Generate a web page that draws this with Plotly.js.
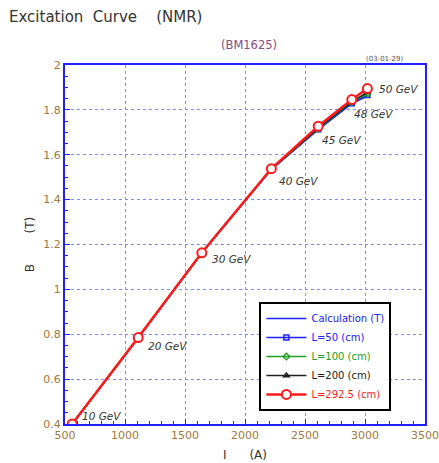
<!DOCTYPE html>
<html><head><meta charset="utf-8">
<script src="https://cdn.plot.ly/plotly-3.0.1.min.js"></script>
<style>body{margin:0;background:#fff}#c{width:439px;height:463px}</style>
</head><body><div id="c"></div>
<script>
const current = [560, 1110, 1640, 2220, 2610, 2890, 3020];
const energyLabels = ["10 GeV","20 GeV","30 GeV","40 GeV","45 GeV","48 GeV","50 GeV"];
const calcB  = [0.40, 0.785, 1.163, 1.535, 1.712, 1.828, 1.862];
const L50B   = [0.40, 0.785, 1.163, 1.535, 1.714, 1.830, 1.866];
const L100B  = [0.40, 0.785, 1.163, 1.536, 1.716, 1.834, 1.872];
const L200B  = [0.40, 0.785, 1.163, 1.537, 1.718, 1.837, 1.878];
const L292B  = [0.40, 0.785, 1.163, 1.538, 1.727, 1.846, 1.895];
const labelShift = [[8,8],[8,-8],[8,-6],[6,-12],[2,-14],[0,-14],[10,0]];

const traces = [
  {x: current, y: calcB, mode:'lines', name:'Calculation (T)', line:{color:'#2020ff', width:1.5}},
  {x: current, y: L50B, mode:'lines+markers', name:'L=50 (cm)', line:{color:'#2020ff', width:1.5},
   marker:{symbol:'square-open', size:5, color:'#2020ff', line:{width:1.5}}},
  {x: current, y: L100B, mode:'lines+markers', name:'L=100 (cm)', line:{color:'#20a020', width:1.5},
   marker:{symbol:'diamond-open', size:5, color:'#20a020', line:{width:1.5}}},
  {x: current, y: L200B, mode:'lines+markers', name:'L=200 (cm)', line:{color:'#202020', width:1.5},
   marker:{symbol:'triangle-up-open', size:5, color:'#202020', line:{width:1.5}}},
  {x: current, y: L292B, mode:'lines+markers', name:'L=292.5 (cm)', line:{color:'#ff1a1a', width:2.5},
   marker:{symbol:'circle', size:9, color:'#ffffff', line:{width:2, color:'#ff1a1a'}}}
];

const tickColor = '#a07840';
const annotations = energyLabels.map((t,i)=>({
  x: current[i], y: L292B[i], xref:'x', yref:'y', text:'<i>'+t+'</i>', showarrow:false,
  xanchor:'left', yanchor:'middle', xshift: labelShift[i][0], yshift: labelShift[i][1],
  font:{family:'DejaVu Sans', size:10.5, color:'#333'}
}));
annotations.push(
  {xref:'paper', yref:'paper', x:-0.16, y:1.135, xanchor:'left', yanchor:'middle', showarrow:false,
   text:'Excitation&nbsp;&nbsp;Curve&nbsp;&nbsp;&nbsp;&nbsp;(NMR)', font:{family:'DejaVu Sans', size:15, color:'#333'}},
  {xref:'paper', yref:'paper', x:0.51, y:1.055, xanchor:'center', yanchor:'middle', showarrow:false,
   text:'(BM1625)', font:{family:'DejaVu Sans', size:11.5, color:'#8a4a8a'}},
  {xref:'paper', yref:'paper', x:0.89, y:1.018, xanchor:'center', yanchor:'middle', showarrow:false,
   text:'(03-01-29)', font:{family:'DejaVu Sans', size:7, color:'#555'}}
);

const gridStyle = {showgrid:true, gridcolor:'#7a8cff', griddash:'dot', gridwidth:1};
const layout = {
  width:439, height:463,
  margin:{l:65, r:14, t:65, b:39},
  paper_bgcolor:'#fff', plot_bgcolor:'#fff',
  showlegend:true,
  legend:{x:0.54, y:0.34, xanchor:'left', yanchor:'top', bgcolor:'#fff', bordercolor:'#000', borderwidth:2,
    font:{family:'DejaVu Sans', size:10, color:'#2020ff'}, tracegroupgap:0, itemwidth:40},
  xaxis:Object.assign({range:[500,3500], dtick:500, tick0:500, showline:true, linecolor:'#2020ff', linewidth:2, mirror:true,
    ticks:'inside', ticklen:5, tickcolor:'#2020ff', zeroline:false,
    minor:{dtick:100, ticks:'inside', ticklen:3, tickcolor:'#2020ff', showgrid:false},
    tickfont:{family:'DejaVu Sans', size:11, color:tickColor},
    title:{text:'I&nbsp;&nbsp;&nbsp;&nbsp;&nbsp;&nbsp;(A)', font:{family:'DejaVu Sans', size:12, color:'#333'}, standoff:9}}, gridStyle),
  yaxis:Object.assign({range:[0.4,2], dtick:0.2, tick0:0.4, showline:true, linecolor:'#2020ff', linewidth:2, mirror:true,
    ticks:'inside', ticklen:5, tickcolor:'#2020ff', zeroline:false,
    minor:{dtick:0.05, ticks:'inside', ticklen:3, tickcolor:'#2020ff', showgrid:false},
    tickfont:{family:'DejaVu Sans', size:11, color:tickColor},
    title:{text:'B&nbsp;&nbsp;&nbsp;&nbsp;&nbsp;&nbsp;&nbsp;&nbsp;(T)', font:{family:'DejaVu Sans', size:12, color:'#333'}, standoff:6}}, gridStyle),
  annotations: annotations
};
Plotly.newPlot('c', traces, layout, {displayModeBar:false, staticPlot:true}).then(()=>{
  const cols = ['#2020ff','#2020ff','#20a020','#202020','#ff1a1a'];
  document.querySelectorAll('.legend .traces .legendtext').forEach((el,i)=>{ el.style.fill = cols[i]; });
});
</script></body></html>
